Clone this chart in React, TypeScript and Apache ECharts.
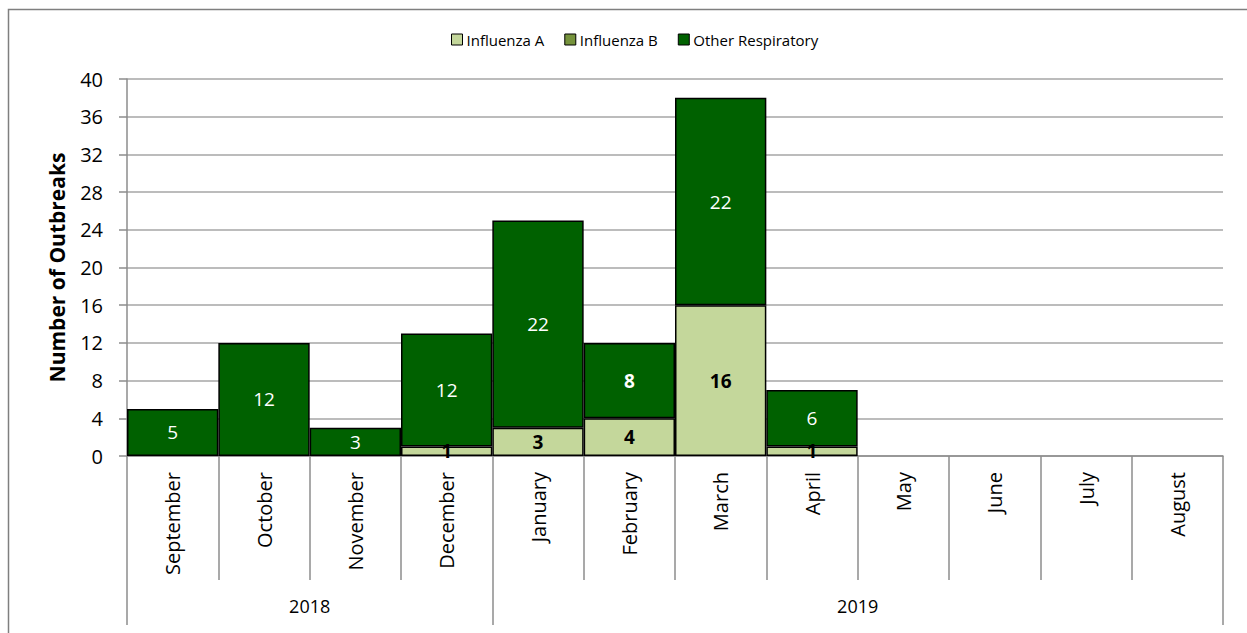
import React, { useEffect, useRef } from "react";
import * as echarts from "echarts";

const months = ["September", "October", "November", "December", "January", "February", "March", "April", "May", "June", "July", "August"];
const years = ["2018", "2019"];
const yearSpans = [4, 8];
const influenzaA = [0, 0, 0, 1, 3, 4, 16, 1, 0, 0, 0, 0];
const influenzaB = [0, 0, 0, 0, 0, 0, 0, 0, 0, 0, 0, 0];
const otherResp = [5, 12, 3, 12, 22, 8, 22, 6, 0, 0, 0, 0];
const boldOtherMonths = ["February"];

const FONT = "'Open Sans', 'Noto Sans', sans-serif";

export default function App() {
  const ref = useRef<HTMLDivElement>(null);
  useEffect(() => {
    if (!ref.current) return;
    const chart = echarts.init(ref.current, null, { renderer: "svg" });
    const toData = (arr: number[]) => arr.map((v) => (v > 0 ? v : null));

    const bounds: number[] = [0];
    yearSpans.forEach((s) => bounds.push(bounds[bounds.length - 1] + s));
    const centers = yearSpans.map((s, i) => bounds[i] + s / 2);

    const otherData = otherResp.map((v, i) => {
      if (!(v > 0)) return null;
      if (boldOtherMonths.includes(months[i])) {
        return { value: v, label: { fontWeight: "bold" } };
      }
      return v;
    });

    chart.setOption({
      animation: false,
      textStyle: { fontFamily: FONT },
      graphic: [
        {
          type: "rect",
          shape: { x: 8.5, y: 9.5, width: 1300, height: 700 },
          style: { fill: "none", stroke: "#7f7f7f", lineWidth: 1.5 },
          silent: true,
        },
      ],
      legend: {
        left: 446,
        top: 27,
        icon: "rect",
        itemWidth: 11,
        itemHeight: 11,
        itemGap: 20,
        textStyle: { fontSize: 15, color: "#000", fontFamily: FONT, padding: [0, 0, 0, -1] },
        itemStyle: { borderColor: "#000", borderWidth: 1 },
        data: ["Influenza A", "Influenza B", "Other Respiratory"],
      },
      grid: { left: 127, right: 24, top: 79, bottom: 177, containLabel: false },
      xAxis: [
        {
          type: "category",
          data: months,
          axisLine: { lineStyle: { color: "#8c8c8c", width: 1.5 } },
          axisTick: { show: true, length: 124, interval: 0, lineStyle: { color: "#8c8c8c", width: 1.5 } },
          axisLabel: { rotate: 90, margin: 16, fontSize: 20, color: "#000", fontFamily: FONT, interval: 0 },
        },
        {
          type: "value",
          min: 0,
          max: months.length,
          position: "bottom",
          offset: 124,
          axisLine: { show: false },
          splitLine: { show: false },
          axisTick: {
            show: true,
            length: 45,
            customValues: bounds,
            lineStyle: { color: "#8c8c8c", width: 1.5 },
          },
          axisLabel: {
            customValues: centers,
            margin: 17,
            fontSize: 18,
            color: "#000",
            fontFamily: FONT,
            formatter: (v: number) => {
              const i = centers.indexOf(v);
              return i >= 0 ? years[i] : "";
            },
          },
        },
      ],
      yAxis: {
        type: "value",
        min: 0,
        max: 40,
        interval: 4,
        name: "Number of Outbreaks",
        nameLocation: "middle",
        nameGap: 60,
        nameTextStyle: { fontSize: 21, fontWeight: "bold", color: "#000", fontFamily: FONT },
        axisLine: { show: true, lineStyle: { color: "#8c8c8c", width: 1.5 } },
        axisTick: { show: true, length: 8, lineStyle: { color: "#8c8c8c", width: 1.5 } },
        axisLabel: { margin: 24, fontSize: 20, color: "#000", fontFamily: FONT },
        splitLine: { lineStyle: { color: "#a6a6a6", width: 1.5 } },
      },
      series: [
        {
          name: "Influenza A",
          type: "bar",
          stack: "total",
          barCategoryGap: "0%",
          data: toData(influenzaA),
          itemStyle: { color: "#c4d79b", borderColor: "#000", borderWidth: 1.5 },
          label: { show: true, position: "inside", color: "#000", fontWeight: "bold", fontSize: 19, fontFamily: FONT },
        },
        {
          name: "Influenza B",
          type: "bar",
          stack: "total",
          barCategoryGap: "0%",
          data: toData(influenzaB),
          itemStyle: { color: "#76933c", borderColor: "#000", borderWidth: 1.5 },
          label: { show: true, position: "inside", color: "#000", fontWeight: "bold", fontSize: 19, fontFamily: FONT },
        },
        {
          name: "Other Respiratory",
          type: "bar",
          stack: "total",
          barCategoryGap: "0%",
          data: otherData,
          itemStyle: { color: "#006100", borderColor: "#000", borderWidth: 1.5 },
          label: { show: true, position: "inside", color: "#fff", fontSize: 19, fontFamily: FONT },
        },
      ],
    });
    return () => chart.dispose();
  }, []);
  return (
    <div
      ref={ref}
      style={{ position: "fixed", left: 0, top: 0, width: 1247, height: 633, background: "#fff" }}
    />
  );
}
